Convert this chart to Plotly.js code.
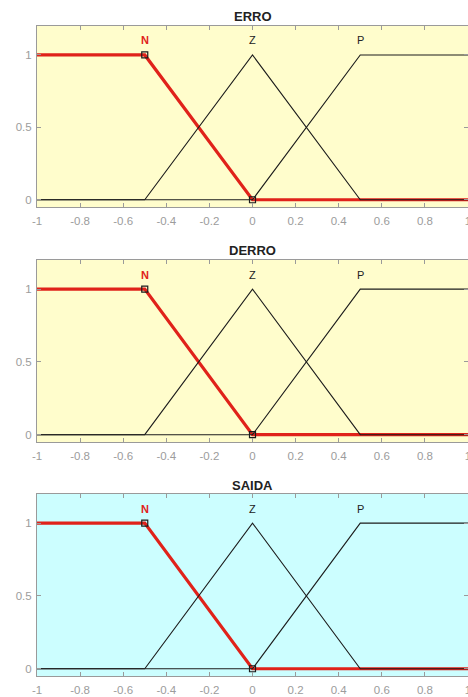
<!DOCTYPE html>
<html>
<head>
<meta charset="utf-8">
<script src="https://cdn.plot.ly/plotly-3.0.1.min.js"></script>
<style>
  html, body { margin: 0; padding: 0; overflow: hidden; background: #ffffff; }
  #chart { width: 468px; height: 697px; }
</style>
</head>
<body>
<div id="chart"></div>
<script>
// Membership functions shared by the three fuzzy variables
const varNames = ["ERRO", "DERRO", "SAIDA"];
const panelColors = ["#FFFDCC", "#FFFDCC", "#CCFEFF"];
const xPts = [-1, -0.5, 0, 0.5, 1];
const muN = [1, 1, 0, 0, 0];
const muZ = [0, 0, 1, 0, 0];
const muP = [0, 0, 0, 1, 1];
// Parameter handles of the selected (N) function
const handleX = [-0.5, 0];
const handleY = [1, 0];
// Label anchors: peak of each function
const mfLabels = ["N", "Z", "P"];
const mfPeakX = [-0.5, 0, 0.5];
const xTicks = [-1, -0.8, -0.6, -0.4, -0.2, 0, 0.2, 0.4, 0.6, 0.8, 1];
const xTickText = ["-1", "-0.8", "-0.6", "-0.4", "-0.2", "0", "0.2", "0.4", "0.6", "0.8", "1"];
const yTicks = [0, 0.5, 1];
const yTickText = ["0", "0.5", "1"];

const FONT = "Liberation Sans, Arial, sans-serif";
const RED = "#e0221a";
const INK = "#1c1c1c";
const FRAME = "#9a9a9a";
const TICKTXT = "#9c9c9c";

// vertical placement of each panel (paper fractions)
const domains = [[0.7030, 0.9627], [0.3659, 0.6270], [0.0301, 0.2912]];
const titleY = [0.977, 0.640, 0.304];

const traces = [];
const layout = {
  width: 468, height: 697,
  margin: {l: 37, r: 0, t: 0, b: 0},
  paper_bgcolor: "#ffffff",
  showlegend: false,
  font: {family: FONT, size: 11, color: TICKTXT},
  annotations: [],
  shapes: []
};

varNames.forEach((name, i) => {
  const s = i === 0 ? "" : String(i + 1);
  const xa = "x" + s, ya = "y" + s;
  const common = {xaxis: xa, yaxis: ya, mode: "lines", hoverinfo: "skip"};
  traces.push(Object.assign({x: xPts, y: muN, line: {color: RED, width: 3.2}}, common));
  traces.push(Object.assign({x: xPts, y: muZ, line: {color: INK, width: 1.1}}, common));
  traces.push(Object.assign({x: xPts, y: muP, line: {color: INK, width: 1.1}}, common));
  traces.push({x: handleX, y: handleY, xaxis: xa, yaxis: ya, mode: "markers", hoverinfo: "skip",
    marker: {symbol: "square-open", size: 6, color: INK, line: {width: 1.2, color: INK}}});

  layout["xaxis" + s] = {
    domain: [0, 1], anchor: ya, range: [-1, 1],
    tickvals: xTicks, ticktext: xTickText,
    ticks: "inside", ticklen: 4, tickcolor: FRAME, tickwidth: 1,
    showline: true, linecolor: FRAME, linewidth: 1, mirror: "ticks",
    showgrid: false, zeroline: false,
    ticklabelstandoff: 3, ticklabeloverflow: "allow",
    tickfont: {family: FONT, size: 11.5, color: TICKTXT}
  };
  layout["yaxis" + s] = {
    domain: domains[i], anchor: xa, range: [-0.05, 1.2],
    tickvals: yTicks, ticktext: yTickText,
    ticks: "inside", ticklen: 4, tickcolor: FRAME, tickwidth: 1,
    showline: true, linecolor: FRAME, linewidth: 1, mirror: "ticks",
    showgrid: false, zeroline: false,
    ticklabelstandoff: 2,
    tickfont: {family: FONT, size: 11.5, color: TICKTXT}
  };
  // panel background
  layout.shapes.push({type: "rect", xref: xa + " domain", yref: ya + " domain",
    x0: 0, x1: 1, y0: 0, y1: 1, fillcolor: panelColors[i], line: {width: 0}, layer: "below"});
  // panel title
  layout.annotations.push({xref: xa, yref: "paper", x: 0, y: titleY[i], text: "<b>" + name + "</b>",
    showarrow: false, xanchor: "center", yanchor: "middle",
    font: {family: FONT, size: 13, color: "#222222"}});
  // function labels above the peaks
  mfLabels.forEach((lab, k) => {
    layout.annotations.push({xref: xa, yref: ya, x: mfPeakX[k], y: 1.1,
      text: k === 0 ? "<b>" + lab + "</b>" : lab, showarrow: false,
      xanchor: "center", yanchor: "middle",
      font: {family: FONT, size: 11, color: k === 0 ? RED : "#222222"}});
  });
});

Plotly.newPlot("chart", traces, layout, {staticPlot: true, displayModeBar: false});
</script>
</body>
</html>
